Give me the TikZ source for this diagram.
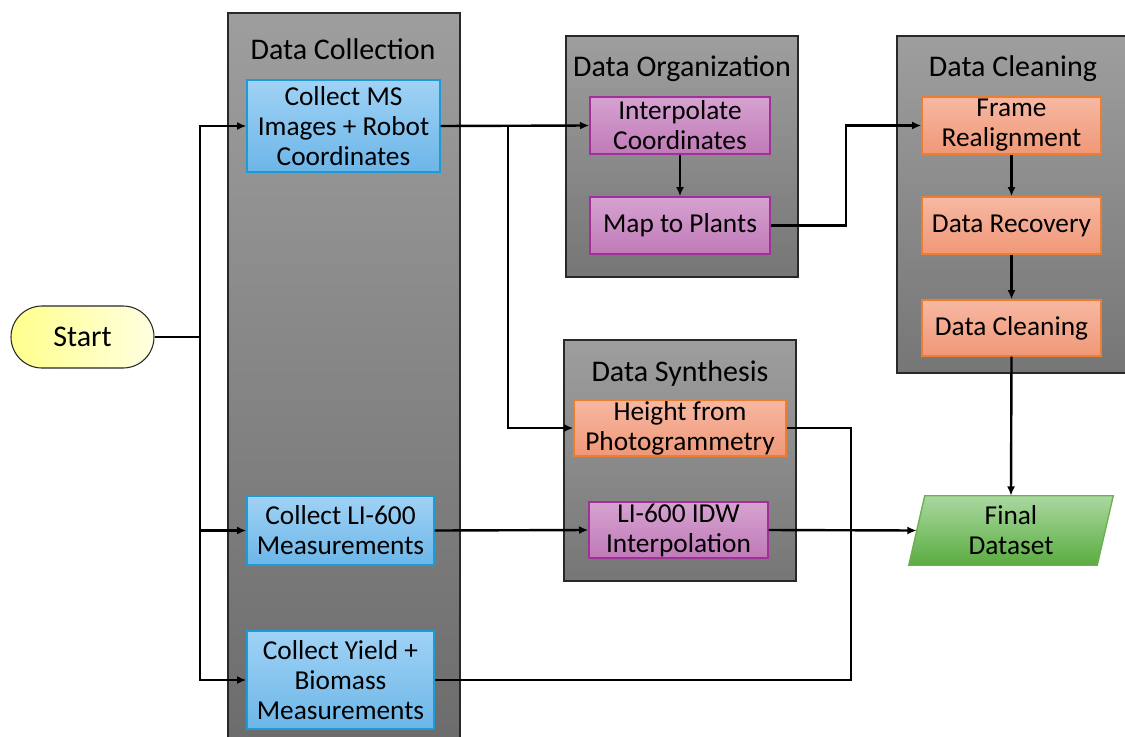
\documentclass[tikz,border=0pt]{standalone}
\usepackage{fontspec}
\setmainfont{Carlito}
\usetikzlibrary{arrows.meta,shapes.misc}
\definecolor{pantop}{RGB}{158,158,158}
\definecolor{panbot}{RGB}{118,118,118}
\definecolor{panbotB}{RGB}{108,108,108}
\definecolor{pandraw}{RGB}{40,40,40}
\definecolor{bluetop}{RGB}{160,210,245}
\definecolor{bluebot}{RGB}{108,182,232}
\definecolor{bluedraw}{RGB}{30,155,215}
\definecolor{purtop}{RGB}{214,162,208}
\definecolor{purbot}{RGB}{192,122,184}
\definecolor{purdraw}{RGB}{160,48,154}
\definecolor{ortop}{RGB}{246,184,162}
\definecolor{orbot}{RGB}{240,152,120}
\definecolor{ordraw}{RGB}{237,125,49}
\definecolor{grtop}{RGB}{170,216,160}
\definecolor{grbot}{RGB}{90,172,64}
\definecolor{grdraw}{RGB}{106,176,76}
\definecolor{yel}{RGB}{255,255,140}
\definecolor{yellight}{RGB}{255,255,225}
\tikzset{
  x=0.75pt, y=-0.75pt,
  txt/.style={font=\fontsize{20.5}{22.5}\selectfont, align=center, inner sep=0pt},
  panel/.style={top color=pantop, bottom color=panbot, draw=pandraw, line width=1pt},
  boxbase/.style={txt, draw, line width=1pt, minimum height=42.75pt},
  bluebox/.style={boxbase, top color=bluetop, bottom color=bluebot, draw=bluedraw, minimum width=140.25pt},
  purbox/.style={boxbase, top color=purtop, bottom color=purbot, draw=purdraw, minimum width=135pt},
  orbox/.style={boxbase, top color=ortop, bottom color=orbot, draw=ordraw, minimum width=134.25pt},
  conn/.style={line width=1.8pt, black},
  arr/.style={conn, -{Latex[length=7pt,width=6pt]}},
  title/.style={font=\fontsize{22.5}{24}\selectfont, align=center, inner sep=0pt}
}
\begin{document}
\begin{tikzpicture}
\clip (0,0) rectangle (1125,736);
\fill[white] (0,0) rectangle (1125,736);
% panels
\shade[top color=pantop, bottom color=panbotB, draw=pandraw, line width=1pt] (228,13) rectangle (460,745);
\node[title] (tcol) at (343,49) {Data Collection};
\shade[panel] (566,36) rectangle (798,277);
\node[title] (torg) at (682,69) {Data Organization};
\shade[panel] (897,36) rectangle (1130,373);
\node[title] (tcln) at (1013,69) {Data Cleaning};
\shade[panel] (564,340) rectangle (796,581);
\node[title] (tsyn) at (680,373) {Data Synthesis};
% start
\node[title, draw=pandraw, line width=0.8pt, rounded rectangle, shading angle=135, left color=yel, right color=yellight, minimum width=107.25pt, minimum height=46.5pt] (start) at (82.5,337) {Start};
% collection boxes
\node[bluebox, minimum width=144.75pt, minimum height=69pt] (ms) at (343.5,126) {Collect MS\\Images + Robot\\Coordinates};
\node[bluebox, minimum height=51.75pt] (li) at (340.5,530.5) {Collect LI-600\\Measurements};
\node[bluebox, minimum height=73.5pt] (yield) at (340.5,680) {Collect Yield +\\Biomass\\Measurements};
% organization
\node[purbox] (interp) at (680,125.5) {Interpolate\\Coordinates};
\node[purbox] (map) at (680,225.5) {Map to Plants};
% cleaning
\node[orbox] (frame) at (1011.5,125.5) {Frame\\Realignment};
\node[orbox] (recov) at (1011.5,225.5) {Data Recovery};
\node[orbox, minimum height=42pt] (clean) at (1011.5,328) {Data Cleaning};
% synthesis
\node[orbox, minimum width=159pt, minimum height=42pt] (height) at (680,428) {Height from\\Photogrammetry};
\node[purbox, minimum width=134.25pt, minimum height=42pt] (idw) at (678.5,530) {LI-600 IDW\\Interpolation};
% final dataset
\node[txt, minimum width=141pt, minimum height=51.75pt] (final) at (1011,530.5) {};
\shade[top color=grtop, bottom color=grbot, draw=grdraw, line width=1pt]
  ([xshift=-6pt]final.south west) -- ([xshift=6pt]final.north west) -- ([xshift=6pt]final.north east) -- ([xshift=-6pt]final.south east) -- cycle;
\node[txt] (finaltxt) at (final.center) {Final\\Dataset};
% connectors
\coordinate (trunk) at (200,337);
\draw[conn] (start.east) -- (trunk);
\draw[arr] (trunk) |- (ms.west);
\draw[arr] (trunk) |- (li.west);
\draw[arr] (trunk) |- (yield.west);
\draw[arr] (ms.east) -- (interp.west);
\coordinate (b1) at (508,126);
\draw[arr] (b1) |- (height.west);
\draw[arr] (interp.south) -- (map.north);
\coordinate (j1) at (846,225.5);
\draw[arr] (map.east) -- (j1) |- (frame.west);
\draw[arr] (frame.south) -- (recov.north);
\draw[arr] (recov.south) -- (clean.north);
\draw[arr] (clean.south) -- (final.north);
\draw[arr] (li.east) -- (idw.west);
\draw[arr] (idw.east) -- (final.west);
\coordinate (j2) at (851,428);
\draw[conn] (height.east) -- (j2) |- (yield.east);
\end{tikzpicture}
\end{document}
